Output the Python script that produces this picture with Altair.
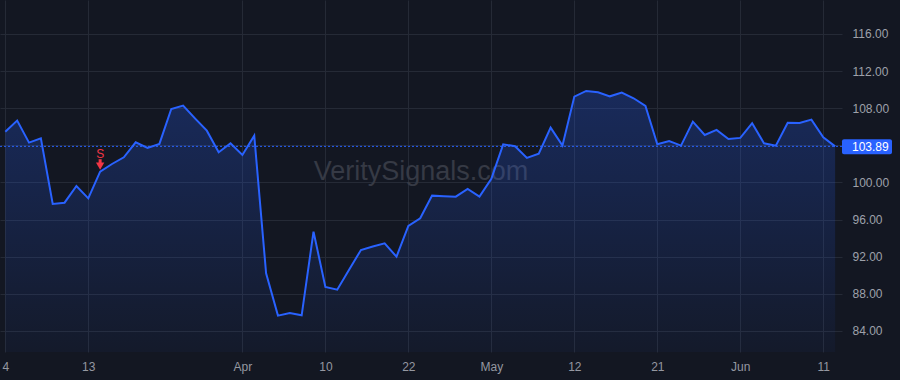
import altair as alt
import pandas as pd

# Trading days (2025) and closing prices
dates = [
    "2025-03-04", "2025-03-05", "2025-03-06", "2025-03-07", "2025-03-10", "2025-03-11", "2025-03-12",
    "2025-03-13", "2025-03-14", "2025-03-17", "2025-03-18", "2025-03-19", "2025-03-20", "2025-03-21",
    "2025-03-24", "2025-03-25", "2025-03-26", "2025-03-27", "2025-03-28", "2025-03-31", "2025-04-01",
    "2025-04-02", "2025-04-03", "2025-04-04", "2025-04-07", "2025-04-08", "2025-04-09", "2025-04-10",
    "2025-04-11", "2025-04-14", "2025-04-15", "2025-04-16", "2025-04-17", "2025-04-21", "2025-04-22",
    "2025-04-23", "2025-04-24", "2025-04-25", "2025-04-28", "2025-04-29", "2025-04-30", "2025-05-01",
    "2025-05-02", "2025-05-05", "2025-05-06", "2025-05-07", "2025-05-08", "2025-05-09", "2025-05-12",
    "2025-05-13", "2025-05-14", "2025-05-15", "2025-05-16", "2025-05-19", "2025-05-20", "2025-05-21",
    "2025-05-22", "2025-05-23", "2025-05-27", "2025-05-28", "2025-05-29", "2025-05-30", "2025-06-02",
    "2025-06-03", "2025-06-04", "2025-06-05", "2025-06-06", "2025-06-09", "2025-06-10", "2025-06-11",
    "2025-06-12",
]
prices = [
    105.47, 106.66, 104.29, 104.76, 97.68, 97.82, 99.62,
    98.29, 101.16, 101.99, 102.71, 104.33, 103.72, 104.15,
    107.92, 108.28, 106.91, 105.58, 103.25, 104.22, 102.96,
    105.04, 90.21, 85.65, 85.94, 85.68, 94.70, 88.74,
    88.45, 90.60, 92.72, 93.10, 93.44, 92.00, 95.31,
    96.14, 98.58, 98.52, 98.47, 99.30, 98.47, 100.40,
    104.11, 103.90, 102.64, 103.10, 105.91, 103.97, 109.25,
    109.86, 109.72, 109.28, 109.68, 109.07, 108.24, 104.11,
    104.47, 103.97, 106.55, 105.12, 105.66, 104.69, 104.80,
    106.38, 104.22, 103.97, 106.44, 106.41, 106.77, 104.87,
    103.89,
]

# x-axis tick positions (trading-day index) and their labels
tick_idx = [0, 7, 20, 27, 34, 41, 48, 55, 62, 69]
tick_labels = ["4", "13", "Apr", "10", "22", "May", "12", "21", "Jun", "11"]
month_labels = ["Apr", "May", "Jun"]

y_ticks = [84, 88, 92, 96, 100, 104, 108, 112, 116]

signal_dates = ["2025-03-14"]
signal_labels = ["S"]

df = pd.DataFrame({"i": list(range(len(dates))), "date": dates, "price": prices})
sig = df[df["date"].isin(signal_dates)].copy()
sig["label"] = signal_labels
last_df = df.tail(1).copy()
last_df["txt"] = last_df["price"].map(lambda v: f"{v:.2f}")

BG = "#131722"
BLUE = "#2962ff"
RED = "#f23645"
FONT = "Liberation Sans"

label_map = "{" + ",".join(f"'{k}':'{v}'" for k, v in zip(tick_idx, tick_labels)) + "}"
bold_test = " || ".join(f"datum.label == '{m}'" for m in month_labels)

x_scale = alt.Scale(domain=[-0.447, 70.58], nice=False, zero=False)
y_scale = alt.Scale(domain=[81.73, 119.66], nice=False, zero=False)

x_enc = alt.X(
    "i:Q", scale=x_scale,
    axis=alt.Axis(
        values=tick_idx, labelExpr=f"{label_map}[datum.value]", title=None,
        grid=True, gridColor="#252a36", ticks=False, domain=False,
        labelColor="#9598a1", labelFont=FONT, labelFontSize=12, labelPadding=9,
        labelFontWeight=alt.ExprRef(expr=f"({bold_test}) ? 'bold' : 'normal'"),
    ),
)
y_enc = alt.Y(
    "price:Q", scale=y_scale,
    axis=alt.Axis(
        orient="right", values=y_ticks, format=".2f", title=None,
        grid=True, gridColor="#252a36", ticks=False, domain=False,
        labelColor="#9ea1aa", labelFont=FONT, labelFontSize=12, labelPadding=10,
    ),
)

base = alt.Chart(df)

watermark = alt.Chart(pd.DataFrame({"t": ["VeritySignals.com"]})).mark_text(
    font=FONT, fontSize=27, color="#363a45", baseline="middle", align="center"
).encode(x=alt.value(421), y=alt.value(172), text="t:N")

area = base.mark_area(
    clip=True,
    color=alt.Gradient(
        gradient="linear",
        stops=[
            alt.GradientStop(color="rgba(41,98,255,0.26)", offset=0),
            alt.GradientStop(color="rgba(41,98,255,0.04)", offset=1),
        ],
        x1=1, x2=1, y1=0, y2=1,
    )
).encode(x=x_enc, y=y_enc, y2=alt.datum(81.73))

line = base.mark_line(color=BLUE, strokeWidth=2).encode(x="i:Q", y="price:Q")

price_line = alt.Chart(last_df).mark_rule(
    color=BLUE, strokeDash=[2, 2], strokeWidth=1
).encode(y="price:Q")

sig_text = alt.Chart(sig).mark_text(
    color=RED, font=FONT, fontSize=12, dy=-18, baseline="middle"
).encode(x="i:Q", y="price:Q", text="label:N")

sig_stem = alt.Chart(sig).mark_rule(
    color=RED, strokeWidth=3, yOffset=-12.5, y2Offset=-7
).encode(x="i:Q", y="price:Q", y2="price:Q")

sig_head = alt.Chart(sig).mark_point(
    shape="triangle-down", filled=True, color=RED, opacity=1, size=70, yOffset=-5.5
).encode(x="i:Q", y="price:Q")

price_box = alt.Chart(last_df).mark_rect(
    color=BLUE, cornerRadius=2, yOffset=-7, y2Offset=8
).encode(x=alt.value(842), x2=alt.value(892), y="price:Q", y2="price:Q")

price_txt = alt.Chart(last_df).mark_text(
    color="#ffffff", font=FONT, fontSize=12, align="left", baseline="middle", dy=1
).encode(x=alt.value(852), y="price:Q", text="txt:N")

chart = alt.layer(
    watermark, area, line, price_line, sig_text, sig_stem, sig_head, price_box, price_txt
).properties(
    width=842, height=352,
    autosize=alt.AutoSizeParams(type="none"),
    padding={"left": 0, "top": 0, "right": 58, "bottom": 28},
    background=BG,
).configure_view(stroke=None, fill=BG)

chart.save("out.html", embed_options={"renderer": "svg", "actions": False})
